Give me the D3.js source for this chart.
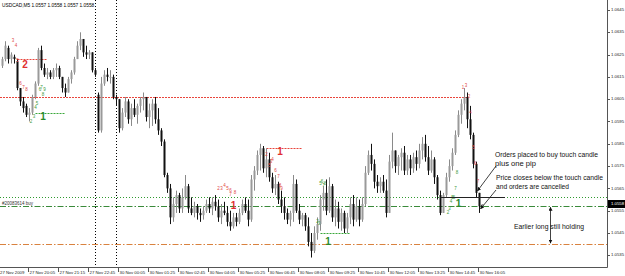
<!DOCTYPE html>
<html><head><meta charset="utf-8">
<script src="https://cdn.jsdelivr.net/npm/d3@7/dist/d3.min.js"></script>
<style>
body{margin:0;background:#fff}
svg{display:block}
text{font-family:"Liberation Sans",Arial,sans-serif}
</style>
</head><body>
<svg id="chart" width="625" height="276"></svg>
<script>
// ---------------- DATA ----------------
const symbolTitle = "USDCAD,M5  1.0557 1.0558 1.0557 1.0558";
const opens = [
1.0620,1.0623,1.0628,1.0623,1.0624,1.0622,1.0610,1.0604,1.0602,1.0598,
1.0599,1.0606,1.0612,1.0627,1.0619,1.0616,1.0617,1.0615,1.0618,1.0619,
1.0615,1.0610,1.0608,1.0614,1.0617,1.0623,1.0629,1.0632,1.0626,1.0625,
1.0626,1.0618,1.0607,1.0591,1.0612,1.0616,1.0615,1.0615,1.0606,1.0605,
1.0592,1.0599,1.0604,1.0596,1.0601,1.0598,1.0602,1.0605,1.0606,1.0597,
1.0600,1.0603,1.0596,1.0591,1.0586,1.0571,1.0565,1.0552,1.0558,1.0562,
1.0556,1.0561,1.0566,1.0556,1.0554,1.0557,1.0554,1.0553,1.0555,1.0558,
1.0556,1.0559,1.0557,1.0552,1.0555,1.0554,1.0550,1.0548,1.0552,1.0550,
1.0554,1.0558,1.0555,1.0551,1.0569,1.0573,1.0580,1.0583,1.0574,1.0578,
1.0570,1.0565,1.0567,1.0560,1.0557,1.0554,1.0551,1.0554,1.0567,1.0555,
1.0551,1.0553,1.0548,1.0541,1.0537,1.0545,1.0549,1.0560,1.0563,1.0555,
1.0566,1.0552,1.0556,1.0550,1.0554,1.0547,1.0552,1.0558,1.0551,1.0557,
1.0551,1.0558,1.0572,1.0580,1.0576,1.0568,1.0566,1.0568,1.0564,1.0554,
1.0577,1.0582,1.0575,1.0579,1.0581,1.0573,1.0578,1.0574,1.0579,1.0576,
1.0582,1.0585,1.0579,1.0573,1.0578,1.0570,1.0562,1.0554,1.0562,1.0570,
1.0575,1.0581,1.0589,1.0598,1.0603,1.0606,1.0596,1.0589,1.0576,1.0563,
1.0557];
const highs = [
1.0624,1.0631,1.0629,1.0626,1.0625,1.0623,1.0610,1.0606,1.0603,1.0601,
1.0607,1.0613,1.0628,1.0629,1.0621,1.0619,1.0618,1.0619,1.0621,1.0620,
1.0615,1.0612,1.0615,1.0618,1.0624,1.0631,1.0635,1.0632,1.0629,1.0627,
1.0626,1.0619,1.0608,1.0615,1.0618,1.0619,1.0618,1.0616,1.0607,1.0605,
1.0601,1.0606,1.0605,1.0603,1.0605,1.0603,1.0606,1.0608,1.0606,1.0603,
1.0605,1.0606,1.0601,1.0592,1.0587,1.0572,1.0567,1.0561,1.0564,1.0563,
1.0565,1.0571,1.0567,1.0561,1.0559,1.0558,1.0556,1.0557,1.0560,1.0561,
1.0561,1.0562,1.0560,1.0558,1.0559,1.0557,1.0555,1.0554,1.0554,1.0556,
1.0560,1.0561,1.0560,1.0571,1.0575,1.0582,1.0585,1.0584,1.0583,1.0581,
1.0572,1.0571,1.0568,1.0564,1.0561,1.0556,1.0555,1.0571,1.0569,1.0558,
1.0554,1.0554,1.0552,1.0545,1.0548,1.0552,1.0562,1.0566,1.0569,1.0570,
1.0567,1.0560,1.0559,1.0556,1.0555,1.0554,1.0561,1.0562,1.0561,1.0560,
1.0561,1.0575,1.0582,1.0585,1.0578,1.0571,1.0570,1.0571,1.0569,1.0580,
1.0590,1.0582,1.0580,1.0583,1.0584,1.0580,1.0580,1.0581,1.0582,1.0585,
1.0588,1.0589,1.0584,1.0582,1.0579,1.0571,1.0564,1.0563,1.0572,1.0578,
1.0583,1.0591,1.0600,1.0605,1.0610,1.0608,1.0602,1.0590,1.0577,1.0563,
1.0558];
const lows = [
1.0619,1.0622,1.0621,1.0621,1.0621,1.0609,1.0602,1.0599,1.0597,1.0595,
1.0598,1.0605,1.0611,1.0618,1.0615,1.0614,1.0614,1.0614,1.0615,1.0614,
1.0608,1.0606,1.0608,1.0612,1.0616,1.0623,1.0627,1.0624,1.0623,1.0623,
1.0617,1.0615,1.0590,1.0590,1.0611,1.0613,1.0612,1.0605,1.0602,1.0590,
1.0591,1.0597,1.0594,1.0593,1.0597,1.0594,1.0599,1.0600,1.0595,1.0592,
1.0593,1.0594,1.0589,1.0584,1.0570,1.0563,1.0549,1.0550,1.0554,1.0554,
1.0554,1.0560,1.0554,1.0553,1.0552,1.0551,1.0550,1.0551,1.0554,1.0554,
1.0553,1.0555,1.0550,1.0549,1.0553,1.0548,1.0546,1.0547,1.0548,1.0549,
1.0553,1.0554,1.0548,1.0550,1.0564,1.0571,1.0573,1.0572,1.0570,1.0568,
1.0563,1.0562,1.0558,1.0554,1.0551,1.0549,1.0548,1.0550,1.0554,1.0549,
1.0548,1.0546,1.0539,1.0534,1.0536,1.0542,1.0546,1.0555,1.0553,1.0554,
1.0550,1.0548,1.0547,1.0546,1.0545,1.0545,1.0549,1.0548,1.0550,1.0548,
1.0550,1.0557,1.0571,1.0573,1.0565,1.0563,1.0563,1.0563,1.0552,1.0554,
1.0574,1.0572,1.0571,1.0573,1.0571,1.0571,1.0571,1.0572,1.0573,1.0574,
1.0578,1.0577,1.0571,1.0572,1.0567,1.0560,1.0553,1.0554,1.0561,1.0568,
1.0573,1.0580,1.0588,1.0594,1.0600,1.0592,1.0587,1.0574,1.0561,1.0554,
1.0557];
const closes = [
1.0623,1.0629,1.0623,1.0625,1.0623,1.0610,1.0604,1.0601,1.0598,1.0599,
1.0606,1.0612,1.0627,1.0619,1.0616,1.0617,1.0615,1.0618,1.0619,1.0615,
1.0610,1.0608,1.0614,1.0617,1.0623,1.0629,1.0632,1.0626,1.0625,1.0626,
1.0618,1.0616,1.0591,1.0612,1.0616,1.0615,1.0615,1.0606,1.0605,1.0592,
1.0599,1.0604,1.0596,1.0601,1.0598,1.0602,1.0605,1.0606,1.0597,1.0600,
1.0603,1.0596,1.0591,1.0586,1.0571,1.0565,1.0552,1.0558,1.0562,1.0556,
1.0561,1.0566,1.0556,1.0554,1.0557,1.0554,1.0553,1.0555,1.0558,1.0556,
1.0559,1.0557,1.0552,1.0555,1.0554,1.0550,1.0548,1.0552,1.0550,1.0554,
1.0558,1.0555,1.0551,1.0569,1.0573,1.0580,1.0583,1.0574,1.0578,1.0570,
1.0565,1.0567,1.0560,1.0557,1.0554,1.0551,1.0554,1.0567,1.0555,1.0551,
1.0553,1.0548,1.0541,1.0537,1.0545,1.0549,1.0560,1.0563,1.0555,1.0566,
1.0552,1.0556,1.0550,1.0554,1.0547,1.0552,1.0558,1.0551,1.0557,1.0551,
1.0558,1.0572,1.0580,1.0576,1.0568,1.0566,1.0568,1.0564,1.0554,1.0577,
1.0582,1.0575,1.0579,1.0581,1.0573,1.0578,1.0574,1.0579,1.0576,1.0582,
1.0585,1.0579,1.0573,1.0578,1.0570,1.0562,1.0554,1.0562,1.0570,1.0575,
1.0581,1.0589,1.0598,1.0603,1.0606,1.0596,1.0589,1.0576,1.0563,1.0557,
1.0558];

const priceTicks = [1.0645,1.0635,1.0625,1.0615,1.0605,1.0595,1.0585,1.0575,1.0565,1.0555,1.0545,1.0535];
const timeLabels = ["27 Nov 2009","27 Nov 20:05","27 Nov 21:15","27 Nov 22:45","30 Nov 00:05","30 Nov 01:25",
  "30 Nov 02:45","30 Nov 04:05","30 Nov 05:25","30 Nov 06:45","30 Nov 08:05","30 Nov 09:25","30 Nov 10:45",
  "30 Nov 12:05","30 Nov 13:25","30 Nov 14:45","30 Nov 16:05"];
const timeLabelBars = [0,9,19,29,39,49,59,69,79,89,99,109,119,129,139,149,159];
const separatorBars = [32,39];
const currentPrice = 1.0558;

// full-width order / level lines
const fullLevels = [1.0561, 1.0557, 1.0540];
const fullLevelKinds = ["greenDot","greenDashDot","orangeDashDot"];
const orderLabel = "#20083614 buy";
// partial TD levels
const tdLevelStart = [0, 5, 11, 88, 106];
const tdLevelEnd   = [155, 15, 21, 100, 116];
const tdLevelPrice = [1.0606, 1.0623, 1.0599, 1.0583, 1.0545];
const tdLevelColor = ["red","red","green","red","green"];
// big setup numbers
const bigNumBar   = [7.5, 13.5, 92.5, 108.5, 77, 152];
const bigNumPrice = [1.0620, 1.0597, 1.0581, 1.0541, 1.0557, 1.0558];
const bigNumText  = ["2","1","1","1","1","1"];
const bigNumColor = ["red","green","red","green","red","green"];
// small setup counts
const cntBar   = [3.5,4.5,5,6,7,8, 9.5,10.5,11,11.5,12.5,13,13.5,14, 72,73,74,75,76,76,77.5,
                  88,89.5,90,89,91,92,92.5,93, 106,106.5,107,107.5,105,105.5,
                  148.5,149,149.5,150,150.5,151,151.5,
                  153.5,154.5,155.5,156,157,157.5,158.5];
const cntPrice = [1.0631,1.0629,1.0622,1.0612,1.0610,1.0609, 1.0595,1.0597,1.0601,1.0603,1.0609,1.0610,1.0607,1.0609,
                  1.0565,1.0565,1.0566,1.0565,1.0564,1.0562,1.0563,
                  1.0580,1.0577,1.0578,1.0575,1.0573,1.0570,1.0566,1.0565,
                  1.0567,1.0568,1.0566,1.0567,1.0550,1.0549,
                  1.0554,1.0556,1.0559,1.0561,1.0561,1.0565,1.0572,
                  1.0610,1.0611,1.0606,1.0599,1.0583,1.0576,1.0568];
const cntText  = ["3","4","5","6","7","8", "2","3","4","5","6","7","8","9",
                  "2","3","4","5","6","7","8",
                  "2","3","4","5","6","7","8","9",
                  "5","6","7","8","2","3",
                  "2","3","4","5","6","7","8",
                  "1","3","2","4","5","6","7"];
const cntColor = ["r","r","r","r","r","r", "g","g","g","g","g","g","g","g",
                  "r","r","r","r","r","r","r",
                  "r","r","r","r","r","r","r","r",
                  "g","g","g","g","g","g",
                  "g","g","g","g","g","g","g",
                  "r","r","r","r","r","r","r"];

const notes = ["Orders placed to buy touch candle","plus one pip","Price closes below the touch candle","and orders are cancelled","Earlier long still holding"];

// ---------------- CHART ----------------
const W = 625, H = 276, plotRight = 607, plotBottom = 267;
const svg = d3.select("#chart");
svg.append("rect").attr("width",W).attr("height",H).attr("fill","#fff");

const n = opens.length;
const x = d3.scaleBand().domain(d3.range(n)).range([1, 1 + 3*n]).paddingInner(0).paddingOuter(0);
const xc = i => x(0) + 3*i + 1.5;
const y = d3.scaleLinear().domain([1.0645, 1.0535]).range([10, 255.3]);
const py = v => Math.round(y(v)) + 0.5;

const ORANGE = "#d9823f";

// separators
svg.append("g").selectAll("line").data(separatorBars).join("line")
  .attr("x1", d => x(d) - 1.5).attr("x2", d => x(d) - 1.5)
  .attr("y1", 0).attr("y2", plotBottom)
  .attr("stroke","#000").attr("stroke-width",1).attr("stroke-dasharray","1,2");

// full levels
const dashes = {greenDot:"1,2", greenDashDot:"6,2,1.5,2", orangeDashDot:"6,2,1.5,2"};
const lvColors = {greenDot:"#2f9a2f", greenDashDot:"#3a8a3a", orangeDashDot:ORANGE};
svg.append("g").selectAll("line").data(fullLevels).join("line")
  .attr("x1",0).attr("x2",plotRight)
  .attr("y1", d => py(d)).attr("y2", d => py(d))
  .attr("stroke",(d,i)=>lvColors[fullLevelKinds[i]])
  .attr("stroke-dasharray",(d,i)=>dashes[fullLevelKinds[i]])
  .attr("stroke-width",1);

// TD levels
svg.append("g").selectAll("line").data(tdLevelPrice).join("line")
  .attr("x1",(d,i)=> tdLevelStart[i]===0 ? 0 : xc(tdLevelStart[i]))
  .attr("x2",(d,i)=> xc(tdLevelEnd[i]))
  .attr("y1", d => py(d)).attr("y2", d => py(d))
  .attr("stroke",(d,i)=> tdLevelColor[i]==="red" ? "#e8453c" : "#3aa83a")
  .attr("stroke-dasharray","2,1").attr("stroke-width",1);

// candles
const bars = d3.range(n);
const bull = i => closes[i] >= opens[i];
const g = svg.append("g");
g.selectAll("line.w").data(bars).join("line").attr("class","w")
  .attr("x1", i => xc(i)).attr("x2", i => xc(i))
  .attr("y1", i => y(highs[i])).attr("y2", i => y(lows[i]))
  .attr("stroke", i => bull(i) ? "#8a8a8a" : "#111").attr("stroke-width",1);
g.selectAll("rect.b").data(bars).join("rect").attr("class","b")
  .attr("x", i => xc(i) - 1).attr("width", 2)
  .attr("y", i => y(Math.max(opens[i],closes[i])))
  .attr("height", i => Math.max(1, Math.abs(y(opens[i]) - y(closes[i]))))
  .attr("fill", i => bull(i) ? "#9a9a9a" : "#111");

// small counts
svg.append("g").selectAll("text").data(cntText).join("text")
  .attr("x",(d,i)=> xc(cntBar[i])).attr("y",(d,i)=> y(cntPrice[i]))
  .attr("font-size",4.5).attr("text-anchor","middle").attr("dominant-baseline","middle")
  .attr("fill",(d,i)=> cntColor[i]==="r" ? "#e04848" : "#3a9a3a")
  .text(d=>d);

// big numbers
svg.append("g").selectAll("text").data(bigNumText).join("text")
  .attr("x",(d,i)=> xc(bigNumBar[i])).attr("y",(d,i)=> y(bigNumPrice[i]))
  .attr("font-size",10).attr("font-weight","bold").attr("text-anchor","middle").attr("dominant-baseline","middle")
  .attr("fill",(d,i)=> bigNumColor[i]==="red" ? "#e03030" : "#2a8a2a")
  .text(d=>d);

// order label
svg.append("text").attr("x",2).attr("y", y(fullLevels[1]) - 1)
  .attr("font-size",4.5).attr("fill","#333").text(orderLabel);

// title
svg.append("text").attr("x",2).attr("y",7).attr("font-size",4.8).attr("fill","#000").text(symbolTitle);

// axes frame
svg.append("line").attr("x1",plotRight+0.5).attr("x2",plotRight+0.5).attr("y1",0).attr("y2",plotBottom+0.5)
  .attr("stroke","#555").attr("stroke-width",1);
svg.append("line").attr("x1",0).attr("x2",plotRight+0.5).attr("y1",plotBottom+0.5).attr("y2",plotBottom+0.5)
  .attr("stroke","#555").attr("stroke-width",1);

// y ticks
const yt = svg.append("g");
yt.selectAll("line").data(priceTicks).join("line")
  .attr("x1",plotRight).attr("x2",plotRight+3)
  .attr("y1",d=>py(d)).attr("y2",d=>py(d)).attr("stroke","#555");
yt.selectAll("text").data(priceTicks).join("text")
  .attr("x",plotRight+4).attr("y",d=>y(d)).attr("dominant-baseline","middle")
  .attr("font-size",4.3).attr("fill","#222").text(d=>d.toFixed(4));

// current price box
svg.append("rect").attr("x",plotRight+1).attr("y",y(currentPrice)-4).attr("width",W-plotRight-1).attr("height",8).attr("fill","#000");
svg.append("text").attr("x",plotRight+4).attr("y",y(currentPrice)).attr("dominant-baseline","middle")
  .attr("font-size",4.3).attr("fill","#fff").text(currentPrice.toFixed(4));

// x labels
const xt = svg.append("g");
xt.selectAll("line").data(timeLabelBars.slice(1)).join("line")
  .attr("x1",d=>x(d)+0.5).attr("x2",d=>x(d)+0.5).attr("y1",plotBottom).attr("y2",plotBottom+5).attr("stroke","#555");
xt.selectAll("text").data(timeLabels).join("text")
  .attr("x",(d,i)=> i===0 ? 0 : x(timeLabelBars[i]) + 1.5).attr("y",273.5)
  .attr("font-size",4.3).attr("fill","#222").text(d=>d);

// annotations
const lastBar = n - 2;
const noteX = [495, 495, 496, 496, 514];
const noteY = [157, 166, 180, 189, 229];
const noteW = [103, 41, 107, 73, 70];
svg.append("g").selectAll("text").data(notes).join("text")
  .attr("x",(d,i)=>noteX[i]).attr("y",(d,i)=>noteY[i])
  .attr("font-size",7.6).attr("fill","#111")
  .attr("textLength",(d,i)=>noteW[i]).attr("lengthAdjust","spacingAndGlyphs")
  .text(d=>d);

svg.append("defs").append("marker").attr("id","ah").attr("viewBox","0 0 10 10").attr("refX",9).attr("refY",5)
  .attr("markerWidth",5).attr("markerHeight",5).attr("orient","auto-start-reverse")
  .append("path").attr("d","M0,0 L10,5 L0,10 z").attr("fill","#111");

svg.append("line").attr("x1",496).attr("y1",166).attr("x2",xc(lastBar-1)+1).attr("y2",y(closes[lastBar-1])-2)
  .attr("stroke","#111").attr("stroke-width",0.8).attr("marker-end","url(#ah)");
svg.append("line").attr("x1",496).attr("y1",190).attr("x2",xc(lastBar)+1).attr("y2",y(lows[lastBar])-4)
  .attr("stroke","#111").attr("stroke-width",0.8).attr("marker-end","url(#ah)");
svg.append("line").attr("x1",550.5).attr("x2",550.5).attr("y1",y(fullLevels[1])+1).attr("y2",y(fullLevels[2])-1)
  .attr("stroke","#111").attr("stroke-width",0.8).attr("marker-end","url(#ah)").attr("marker-start","url(#ah)");
// touch-candle high line
svg.append("line").attr("x1",xc(146)).attr("x2",505).attr("y1",py(1.0561)).attr("y2",py(1.0561))
  .attr("stroke","#222").attr("stroke-width",1);
</script>
</body></html>
